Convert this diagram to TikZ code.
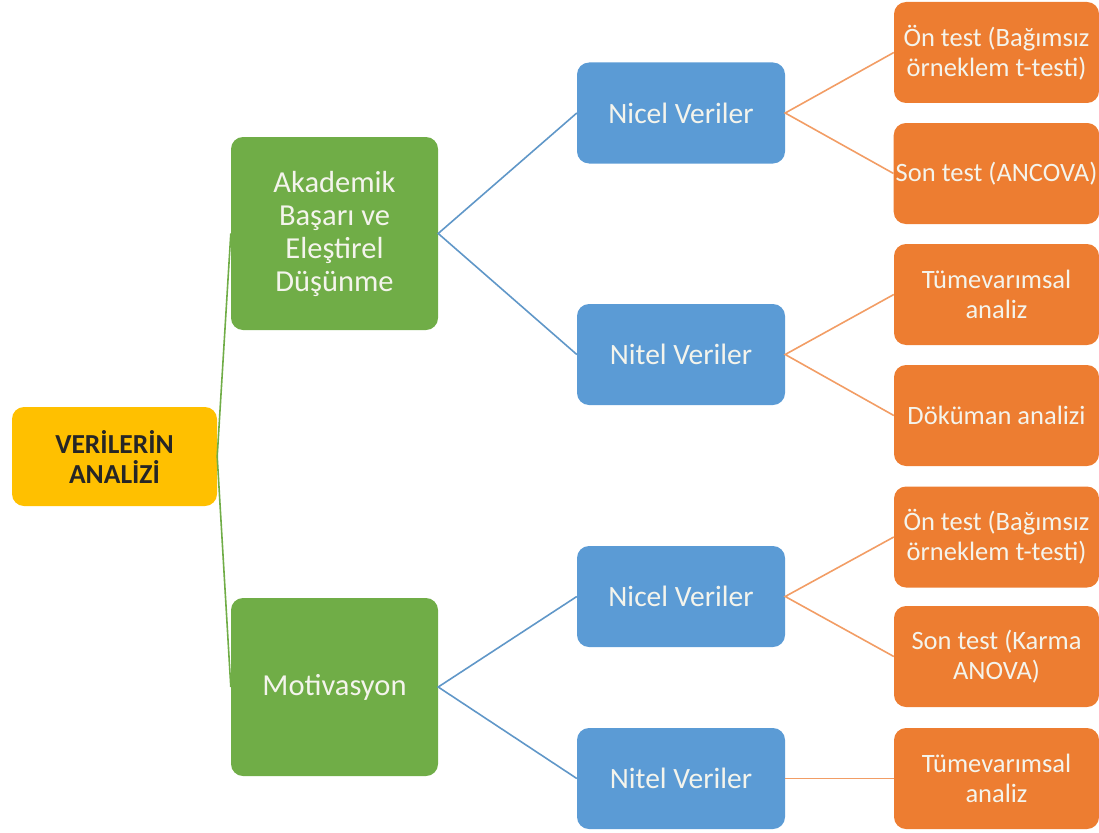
\documentclass[tikz,border=0pt]{standalone}
\usepackage{fontspec}
\setmainfont{Carlito}
\definecolor{rootgold}{HTML}{FFC000}
\definecolor{topicgreen}{HTML}{70AD47}
\definecolor{datablue}{HTML}{5B9BD5}
\definecolor{testorange}{HTML}{ED7D31}
\definecolor{boxtext}{HTML}{F4F4EC}
\begin{document}
\begin{tikzpicture}[x=1pt,y=-1pt,
  box/.style={rectangle,rounded corners=12pt,align=center,inner sep=2pt,text=boxtext},
  rootbox/.style={box,fill=rootgold,minimum width=205pt,minimum height=99pt,
    text=black!85,font=\fontsize{27.5}{30}\selectfont\bfseries},
  topicbox/.style={box,fill=topicgreen,minimum width=207pt,font=\fontsize{30.5}{33}\selectfont},
  databox/.style={box,fill=datablue,minimum width=208pt,minimum height=101pt,
    font=\fontsize{29.5}{32}\selectfont},
  testbox/.style={box,fill=testorange,minimum width=205pt,minimum height=101pt,
    font=\fontsize{26.5}{30}\selectfont},
  greenline/.style={draw=topicgreen,line width=1.6pt},
  blueline/.style={draw=datablue!85!gray,line width=1.6pt},
  orangeline/.style={draw=testorange!75!white,line width=1.6pt}]
  \useasboundingbox (0,0) rectangle (1099,832);
  \node[rootbox] (root) at (114.5,456.5) {VERİLERİN\\ANALİZİ};
  \node[topicbox,minimum height=193pt] (akad) at (334.5,233.5)
    {Akademik\\Başarı ve\\Eleştirel\\Düşünme};
  \node[topicbox,minimum height=178pt] (motiv) at (334.5,687) {Motivasyon};
  \node[databox] (nicelA) at (681,113) {Nicel Veriler};
  \node[databox] (nitelA) at (681,354.5) {Nitel Veriler};
  \node[databox] (nicelB) at (681,596.5) {Nicel Veriler};
  \node[databox] (nitelB) at (681,778.5) {Nitel Veriler};
  \node[testbox] (onA) at (996.5,52.5) {Ön test (Bağımsız\\örneklem t-testi)};
  \node[testbox] (sonA) at (996.5,173.5) {Son test (ANCOVA)};
  \node[testbox] (tumA) at (996.5,294.5) {Tümevarımsal\\analiz};
  \node[testbox] (dok) at (996.5,415.5) {Döküman analizi};
  \node[testbox] (onB) at (996.5,537) {Ön test (Bağımsız\\örneklem t-testi)};
  \node[testbox] (sonB) at (996.5,656.5) {Son test (Karma\\ANOVA)};
  \node[testbox] (tumB) at (996.5,778.5) {Tümevarımsal\\analiz};
  \draw[greenline] (akad.west) -- (root.east) -- (motiv.west);
  \draw[blueline] (nicelA.west) -- (akad.east) -- (nitelA.west);
  \draw[blueline] (nicelB.west) -- (motiv.east) -- (nitelB.west);
  \draw[orangeline] (onA.west) -- (nicelA.east) -- (sonA.west);
  \draw[orangeline] (tumA.west) -- (nitelA.east) -- (dok.west);
  \draw[orangeline] (onB.west) -- (nicelB.east) -- (sonB.west);
  \draw[orangeline] (nitelB.east) -- (tumB.west);
\end{tikzpicture}
\end{document}
